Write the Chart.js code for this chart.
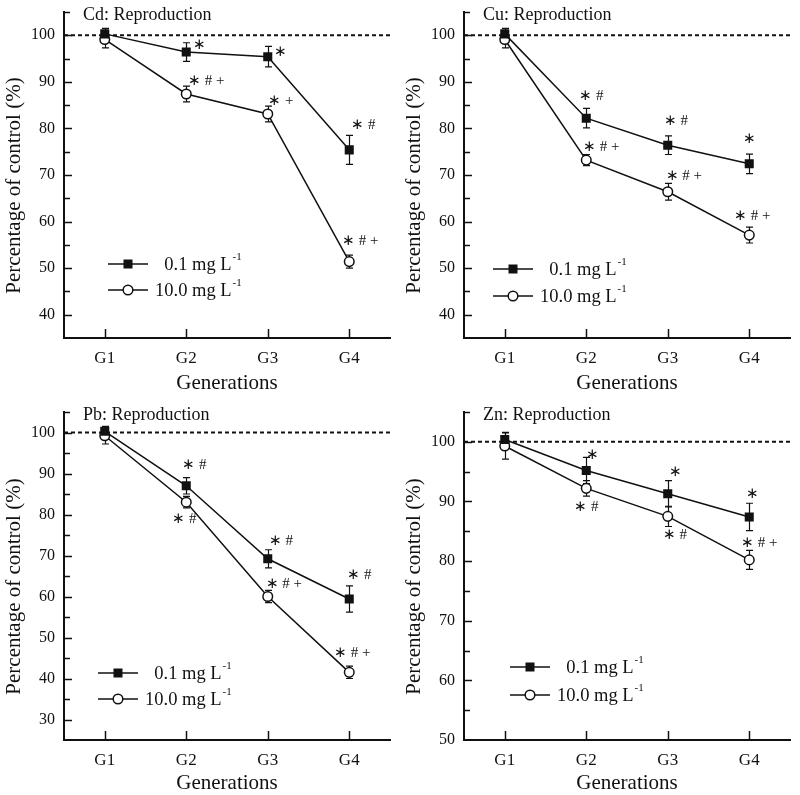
<!DOCTYPE html>
<html>
<head>
<meta charset="utf-8">
<script src="https://cdn.jsdelivr.net/npm/chart.js@4.4.1/dist/chart.umd.min.js"></script>
<style>
  html, body { margin: 0; padding: 0; background: #fff; overflow: hidden; }
  .panel { position: absolute; }
</style>
</head>
<body>
<canvas class="panel" id="cd" width="400" height="400" style="left:0;top:0"></canvas>
<canvas class="panel" id="cu" width="400" height="400" style="left:400px;top:0"></canvas>
<canvas class="panel" id="pb" width="400" height="397" style="left:0;top:400px"></canvas>
<canvas class="panel" id="zn" width="400" height="397" style="left:400px;top:400px"></canvas>
<script>
// --- data (percentage of control, mean ± error) ---
const generations = ['G1', 'G2', 'G3', 'G4'];
const seriesLabels = ['  0.1 mg L', '10.0 mg L'];   // "-1" superscript drawn after

const cdLow = [100.3, 96.4, 95.4, 75.4];
const cdLowErr = [1.2, 2.0, 2.2, 3.1];
const cdHigh = [99.1, 87.4, 83.1, 51.4];
const cdHighErr = [1.8, 1.7, 1.7, 1.4];
const cdLowSig = ['', '*', '*', '*#'];
const cdHighSig = ['', '*#+', '*+', '*#+'];

const cuLow = [100.3, 82.2, 76.4, 72.4];
const cuLowErr = [1.2, 2.1, 2.0, 2.1];
const cuHigh = [99.1, 73.2, 66.4, 57.1];
const cuHighErr = [1.8, 1.2, 1.8, 1.7];
const cuLowSig = ['', '*#', '*#', '*'];
const cuHighSig = ['', '*#+', '*#+', '*#+'];

const pbLow = [100.3, 87.0, 69.2, 59.4];
const pbLowErr = [1.2, 2.0, 2.2, 3.2];
const pbHigh = [99.2, 83.0, 60.0, 41.5];
const pbHighErr = [2.0, 1.4, 1.5, 1.5];
const pbLowSig = ['', '*#', '*#', '*#'];
const pbHighSig = ['', '*#', '*#+', '*#+'];

const znLow = [100.4, 95.2, 91.3, 87.4];
const znLowErr = [1.2, 2.2, 2.2, 2.3];
const znHigh = [99.3, 92.2, 87.5, 80.2];
const znHighErr = [2.2, 1.3, 1.7, 1.6];
const znLowSig = ['', '*', '*', '*'];
const znHighSig = ['', '*#', '*#', '*#+'];

const cdTicks = [40, 50, 60, 70, 80, 90, 100];
const cuTicks = [40, 50, 60, 70, 80, 90, 100];
const pbTicks = [30, 40, 50, 60, 70, 80, 90, 100];
const znTicks = [50, 60, 70, 80, 90, 100];
const cdRange = [35, 105];
const cuRange = [35, 105];
const pbRange = [25, 105];
const znRange = [50, 105];
const controlLevel = 100;

const FONT = "'Liberation Serif', 'Times New Roman', Times, serif";
const INK = '#111';

// error bars, control line, inward ticks, significance marks, panel title, legend
const paperPlugin = {
    id: 'paper',
    beforeDatasetsDraw(chart, args, o) {
        const { ctx, chartArea: a, scales: { x, y } } = chart;
        ctx.save();
        const yc = y.getPixelForValue(o.control);
        ctx.strokeStyle = INK;
        ctx.lineWidth = 2;
        ctx.setLineDash([4, 3]);
        ctx.beginPath();
        ctx.moveTo(a.left, yc);
        ctx.lineTo(a.right, yc);
        ctx.stroke();
        ctx.setLineDash([]);

        ctx.lineWidth = 1.2;
        chart.data.datasets.forEach((ds) => {
            ds.data.forEach((v, i) => {
                const e = ds.errors[i];
                const px = Math.round(x.getPixelForValue(i)) + 0.5;
                const t = y.getPixelForValue(v + e);
                const b = y.getPixelForValue(v - e);
                ctx.beginPath();
                ctx.moveTo(px, t); ctx.lineTo(px, b);
                ctx.moveTo(px - 3.5, t); ctx.lineTo(px + 3.5, t);
                ctx.moveTo(px - 3.5, b); ctx.lineTo(px + 3.5, b);
                ctx.stroke();
            });
        });
        ctx.restore();
    },
    afterDraw(chart, args, o) {
        const { ctx, chartArea: a, scales: { x, y } } = chart;
        ctx.save();
        ctx.strokeStyle = INK;
        ctx.fillStyle = INK;
        ctx.lineWidth = 1.5;

        // y ticks point into the plot, minor every 5
        for (let v = Math.ceil(y.min / 5) * 5; v <= y.max; v += 5) {
            if (v === y.min) continue;
            const py = Math.round(y.getPixelForValue(v)) + 0.5;
            const len = v % 10 === 0 ? 8 : 6;
            ctx.beginPath();
            ctx.moveTo(a.left, py);
            ctx.lineTo(a.left + len, py);
            ctx.stroke();
        }
        // x ticks point up
        chart.data.labels.forEach((_, i) => {
            const px = Math.round(x.getPixelForValue(i)) + 0.5;
            ctx.beginPath();
            ctx.moveTo(px, a.bottom);
            ctx.lineTo(px, a.bottom - 9);
            ctx.stroke();
        });

        // significance marks
        ctx.font = '15px ' + FONT;
        ctx.textAlign = 'center';
        ctx.textBaseline = 'middle';
        chart.data.datasets.forEach((ds, k) => {
            ds.notes.forEach((txt, i) => {
                if (!txt) return;
                const off = o.noteOffsets[k][i];
                const s = txt.split('').map((c) => (c === '*' ? '\u2217' : c)).join(' ');
                ctx.fillText(s, x.getPixelForValue(i) + off[0], y.getPixelForValue(ds.data[i]) + off[1]);
            });
        });

        // panel title
        ctx.font = '18px ' + FONT;
        ctx.textAlign = 'left';
        ctx.fillText(o.title, a.left + 19, a.top + 3);

        // legend
        const lg = o.legend;
        chart.data.datasets.forEach((ds, k) => {
            const ry = lg.y + k * lg.gap;
            const cx = lg.x + 20;
            ctx.lineWidth = 1.5;
            ctx.beginPath();
            ctx.moveTo(lg.x, ry);
            ctx.lineTo(lg.x + 40, ry);
            ctx.stroke();
            if (ds.pointStyle === 'rect') {
                ctx.fillRect(cx - 4.5, ry - 4.5, 9, 9);
            } else {
                ctx.beginPath();
                ctx.arc(cx, ry, 4.8, 0, Math.PI * 2);
                ctx.fillStyle = '#fff';
                ctx.fill();
                ctx.stroke();
                ctx.fillStyle = INK;
            }
            ctx.font = '18.5px ' + FONT;
            ctx.textBaseline = 'middle';
            const tx = lg.x + 47;
            ctx.fillText(ds.label, tx, ry + 1);
            const w = ctx.measureText(ds.label).width;
            ctx.font = '11px ' + FONT;
            ctx.fillText('-1', tx + w + 1, ry - 7);
        });
        ctx.restore();
    },
};

function drawPanel(id, opt) {
    new Chart(document.getElementById(id), {
        type: 'line',
        data: {
            labels: generations,
            datasets: [
                {
                    label: seriesLabels[0],
                    data: opt.low, errors: opt.lowErr, notes: opt.lowSig,
                    borderColor: INK, borderWidth: 1.5,
                    pointStyle: 'rect', pointRadius: 6.4,
                    pointBackgroundColor: INK, pointBorderColor: INK, pointBorderWidth: 0,
                },
                {
                    label: seriesLabels[1],
                    data: opt.high, errors: opt.highErr, notes: opt.highSig,
                    borderColor: INK, borderWidth: 1.5,
                    pointStyle: 'circle', pointRadius: 4.8,
                    pointBackgroundColor: '#fff', pointBorderColor: INK, pointBorderWidth: 1.5,
                },
            ],
        },
        plugins: [paperPlugin],
        options: {
            responsive: false,
            animation: false,
            events: [],
            layout: { padding: { top: 12, right: 10, left: 0, bottom: 0 } },
            plugins: {
                legend: { display: false },
                tooltip: { enabled: false },
                paper: {
                    control: controlLevel,
                    title: opt.title,
                    legend: opt.legend,
                    noteOffsets: opt.noteOffsets,
                },
            },
            scales: {
                x: {
                    type: 'category',
                    offset: true,
                    grid: { display: false, drawTicks: false, offset: false },
                    border: { display: true, color: INK, width: 2 },
                    ticks: { color: INK, padding: 10, font: { family: FONT, size: 17 } },
                    title: {
                        display: true, text: 'Generations', color: INK,
                        font: { family: FONT, size: 21 },
                        padding: { top: 0, bottom: opt.xTitlePad },
                    },
                    afterFit: (s) => { s.height = opt.xAxisHeight; },
                },
                y: {
                    min: opt.range[0],
                    max: opt.range[1],
                    grid: { display: false, drawTicks: false },
                    border: { display: true, color: INK, width: 2 },
                    ticks: { color: INK, padding: 9, font: { family: FONT, size: 16 } },
                    afterBuildTicks: (s) => { s.ticks = opt.ticks.map((v) => ({ value: v })); },
                    title: {
                        // trailing spaces nudge the rotated title down like the original
                        display: true, text: 'Percentage of control (%)    ', color: INK,
                        font: { family: FONT, size: 21 },
                        padding: { top: 2, bottom: 0 },
                    },
                    afterFit: (s) => {
                        s.width = 64;
                        s.paddingTop = 0;
                        s.paddingBottom = 0;
                    },
                },
            },
        },
    });
}

drawPanel('cd', {
    title: 'Cd: Reproduction',
    low: cdLow, lowErr: cdLowErr, lowSig: cdLowSig,
    high: cdHigh, highErr: cdHighErr, highSig: cdHighSig,
    ticks: cdTicks, range: cdRange,
    xAxisHeight: 62, xTitlePad: 4,
    legend: { x: 108, y: 264, gap: 26 },
    noteOffsets: [
        [[0, 0], [13, -7], [13, -5], [14, -25]],
        [[0, 0], [20, -13], [13, -13], [11, -21]],
    ],
});
drawPanel('cu', {
    title: 'Cu: Reproduction',
    low: cuLow, lowErr: cuLowErr, lowSig: cuLowSig,
    high: cuHigh, highErr: cuHighErr, highSig: cuHighSig,
    ticks: cuTicks, range: cuRange,
    xAxisHeight: 62, xTitlePad: 4,
    legend: { x: 93, y: 269, gap: 27 },
    noteOffsets: [
        [[0, 0], [5, -22], [8, -24], [0, -25]],
        [[0, 0], [15, -13], [16, -16], [3, -19]],
    ],
});
drawPanel('pb', {
    title: 'Pb: Reproduction',
    low: pbLow, lowErr: pbLowErr, lowSig: pbLowSig,
    high: pbHigh, highErr: pbHighErr, highSig: pbHighSig,
    ticks: pbTicks, range: pbRange,
    xAxisHeight: 57, xTitlePad: 1,
    legend: { x: 98, y: 273, gap: 26 },
    noteOffsets: [
        [[0, 0], [8, -21], [13, -18], [10, -24]],
        [[0, 0], [-2, 17], [16, -12], [3, -19]],
    ],
});
drawPanel('zn', {
    title: 'Zn: Reproduction',
    low: znLow, lowErr: znLowErr, lowSig: znLowSig,
    high: znHigh, highErr: znHighErr, highSig: znHighSig,
    ticks: znTicks, range: znRange,
    xAxisHeight: 57, xTitlePad: 1,
    legend: { x: 110, y: 267, gap: 28 },
    noteOffsets: [
        [[0, 0], [6, -15], [8, -22], [3, -23]],
        [[0, 0], [0, 19], [7, 19], [10, -17]],
    ],
});
</script>
</body>
</html>
